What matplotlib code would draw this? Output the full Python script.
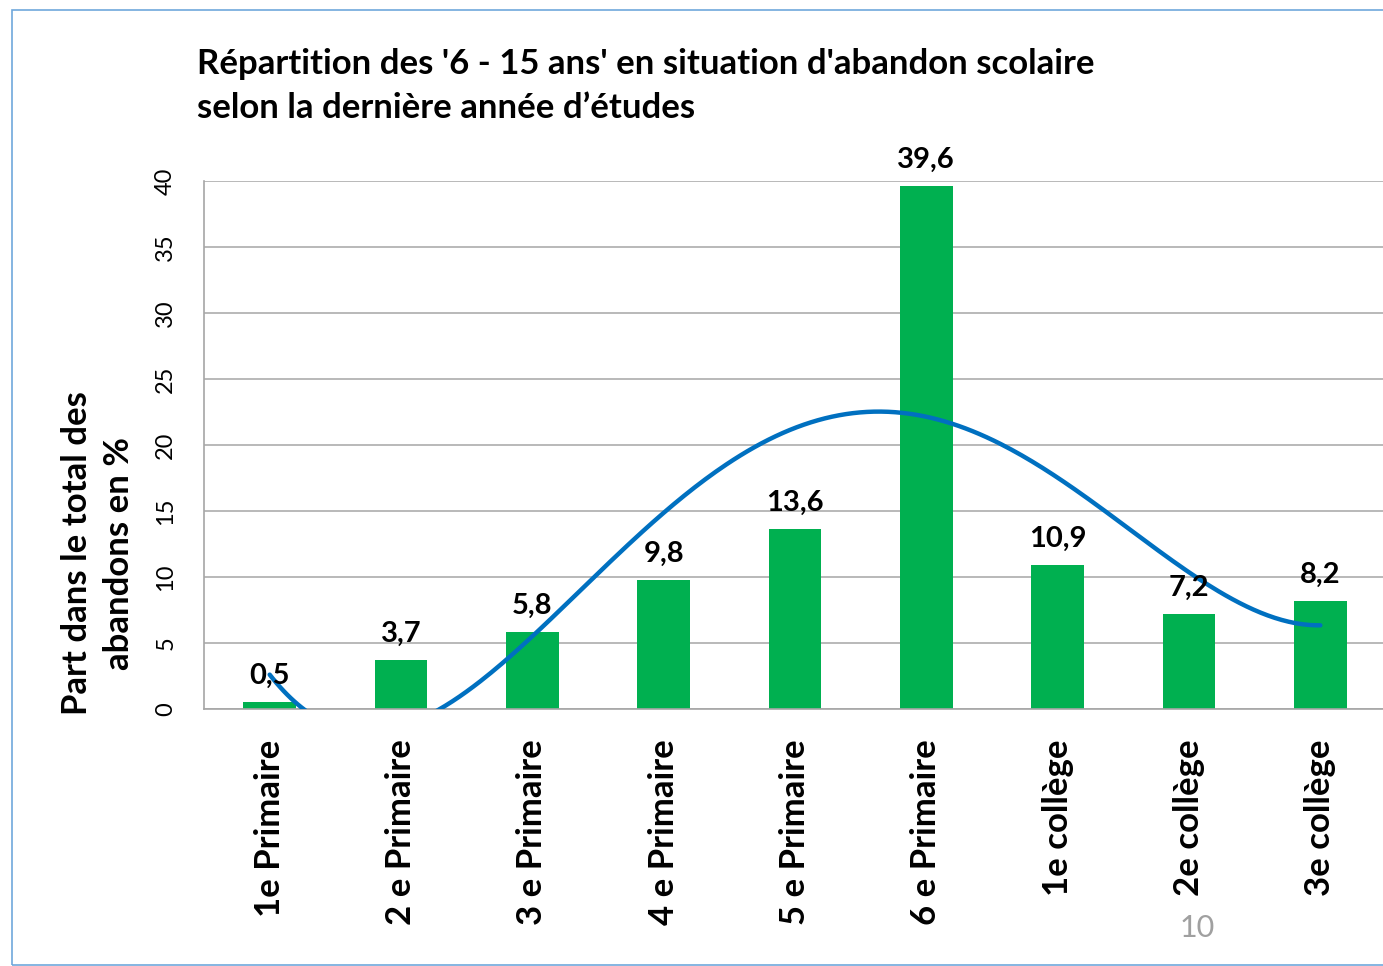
import numpy as np
import matplotlib.pyplot as plt
from matplotlib.patches import Rectangle

plt.rcParams['font.family'] = ['Lato', 'DejaVu Sans']

# data
categories = ['1e Primaire', '2 e Primaire', '3 e Primaire', '4 e Primaire', '5 e Primaire',
              '6 e Primaire', '1e collège', '2e collège', '3e collège']
values = [0.5, 3.7, 5.8, 9.8, 13.6, 39.6, 10.9, 7.2, 8.2]
value_labels = ['0,5', '3,7', '5,8', '9,8', '13,6', '39,6', '10,9', '7,2', '8,2']
yticks = [0, 5, 10, 15, 20, 25, 30, 35, 40]

GREEN = '#00B050'
BLUE = '#0070C0'
GRID = '#A6A6A6'

W, H = 1383, 966
fig = plt.figure(figsize=(W / 100, H / 100), dpi=100)
ax = fig.add_axes([204 / W, 1 - 709 / H, 1182 / W, 528 / H])

xpos = np.arange(len(categories))
ax.bar(xpos, values, width=0.4, color=GREEN, zorder=2)

# polynomial trend line (Excel style, order 4)
coef = np.polyfit(xpos + 1, values, 4)
xs = np.linspace(xpos[0], xpos[-1], 300)
ax.plot(xs, np.polyval(coef, xs + 1), color=BLUE, lw=3.2, zorder=3,
        solid_capstyle='round')

for xi, v, lab in zip(xpos, values, value_labels):
    ax.text(xi, v + 1.0, lab, ha='center', va='bottom', fontsize=21,
            fontweight='bold', zorder=4)

ax.set_xlim(-0.5, len(categories) - 0.5)
ax.set_ylim(0, 40)
ax.set_yticks(yticks)
ax.set_yticklabels([str(t) for t in yticks], rotation=90, va='center', fontsize=17)
ax.yaxis.grid(True, color=GRID, lw=1.1, zorder=0)
ax.set_axisbelow(True)
ax.tick_params(axis='y', length=0, pad=20)
ax.tick_params(axis='x', length=0, pad=22)
ax.set_xticks(xpos)
ax.set_xticklabels(categories, rotation=90, fontsize=25, fontweight='bold',
                   va='top', ha='center')
for s in ['top', 'right']:
    ax.spines[s].set_visible(False)
for s in ['left', 'bottom']:
    ax.spines[s].set_color(GRID)
    ax.spines[s].set_linewidth(1.2)
ax.patch.set_alpha(0)

fig.text(98 / W, 1 - 553 / H, 'Part dans le total des\nabandons en %',
         rotation=90, ha='center', va='center', multialignment='center',
         fontsize=25, fontweight='bold', linespacing=1.4)

fig.text(197 / W, 1 - 86 / H,
         "Répartition des '6 - 15 ans' en situation d'abandon scolaire\n"
         "selon la dernière année d’études",
         ha='left', va='center', fontsize=25, fontweight='bold',
         linespacing=1.45)

fig.text(1197 / W, 1 - 928 / H, '10', ha='center', va='center', fontsize=22,
         color='#A0A0A0')

fig.add_artist(Rectangle((12 / W, 1 - 965 / H), 1.2, (955) / H,
                         transform=fig.transFigure, fill=False,
                         edgecolor='#6FA8DC', lw=1.2))

fig.savefig('out.png', dpi=100)
